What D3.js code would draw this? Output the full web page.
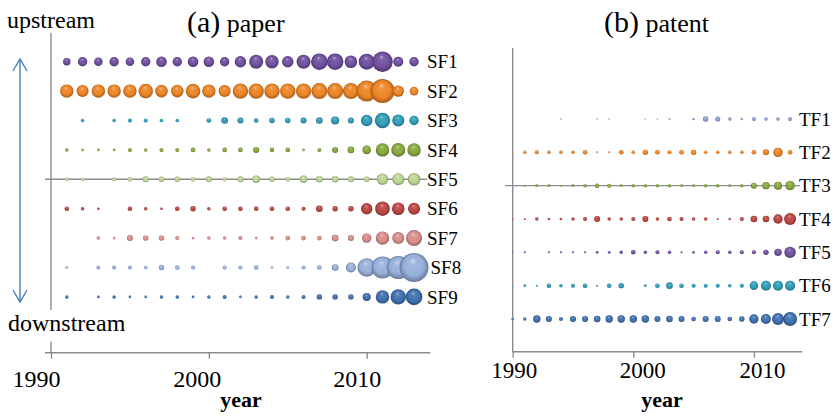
<!DOCTYPE html>
<html>
<head>
<meta charset="utf-8">
<script src="https://cdn.jsdelivr.net/npm/d3@7/dist/d3.min.js"></script>
<style>
  body { margin: 0; background: #fff; }
  svg { display: block; }
  text { font-family: 'Liberation Serif', 'Times New Roman', serif; }
</style>
</head>
<body>
<svg id="chart" width="836" height="417"></svg>
<script>
// years on each panel
const paperYears = [1991, 1992, 1993, 1994, 1995, 1996, 1997, 1998, 1999, 2000, 2001, 2002,
                    2003, 2004, 2005, 2006, 2007, 2008, 2009, 2010, 2011, 2012, 2013];
const patentYears = [1990, 1991, 1992, 1993, 1994, 1995, 1996, 1997, 1998, 1999, 2000, 2001,
                     2002, 2003, 2004, 2005, 2006, 2007, 2008, 2009, 2010, 2011, 2012, 2013];

const paperSeries = ["SF1", "SF2", "SF3", "SF4", "SF5", "SF6", "SF7", "SF8", "SF9"];
const patentSeries = ["TF1", "TF2", "TF3", "TF4", "TF5", "TF6", "TF7"];
const tickYears = [1990, 2000, 2010];

// bubble sizes (null = no bubble that year)
const SF1 = [55, 88, 74, 88, 74, 88, 112, 88, 112, 112, 88, 130, 196, 180, 130, 196, 276, 276, 159, 256, 424, 100, 88];
const SF2 = [180, 144, 180, 180, 180, 213, 159, 159, 213, 180, 144, 237, 237, 237, 237, 237, 256, 256, 256, 441, 576, 130, 74];
const SF3 = [null, 12, null, 12, 16, 16, 12, 12, null, 21, 44, 36, 21, 29, 29, 36, 44, 64, 36, 130, 237, 144, 88];
const SF4 = [12, 7, 7, 7, 16, 12, 16, 16, 21, 12, 21, 21, 36, 21, 21, 7, 16, 36, 44, 74, 180, 196, 180];
const SF5 = [12, 12, null, 16, 21, 36, 29, 29, 21, 36, 16, 36, 55, 29, 21, 55, 44, 44, 36, 29, 130, 144, 159];
const SF6 = [21, 12, 7, null, 21, 12, 7, 21, 29, 12, 21, 21, 21, 21, 21, 16, 44, 29, 29, 130, 213, 159, 144];
const SF7 = [null, null, 12, 7, 36, 29, 29, 16, 7, 12, 12, 16, 7, 12, 21, 21, 21, 44, 36, 88, 180, 144, 256];
const SF8 = [7, null, 16, 16, 16, 12, 29, 21, 16, null, 16, 16, 21, 7, 7, 16, 21, 44, 100, 346, 484, 529, 841];
const SF9 = [12, null, 7, 12, 7, 7, 12, 12, 7, 12, 16, 7, 12, 16, 12, 16, 29, 29, 29, 64, 180, 237, 276];

const TF1 = [null, null, null, null, 2, null, null, 2, 2, null, null, 2, 2, 4, null, 7, 29, 25, 12, 7, 16, 12, 12, 16];
const TF2 = [2, 12, 16, 12, 12, 12, 21, 4, 4, 21, 12, 29, 21, 16, 21, 29, 12, 12, 12, 12, 21, 36, 88, 21];
const TF3 = [null, 4, 7, 7, 4, 7, 12, 21, 16, 7, 12, 12, 12, 12, 7, 7, 12, 12, 7, 12, 36, 55, 64, 88];
const TF4 = [2, 4, 12, 7, 7, 12, 16, 36, 12, 12, 16, 36, 12, 21, 16, 12, 12, 4, 7, 16, 44, 44, 88, 144];
const TF5 = [2, 4, null, 4, 4, 4, 4, 7, 7, 12, 21, 12, 16, 12, 4, 7, 12, 16, 12, 16, 16, 29, 55, 130];
const TF6 = [2, 7, 4, 21, 12, 16, 21, 4, 21, 29, null, 7, 21, 44, 21, 16, 16, 16, 12, 16, 74, 100, 100, 100];
const TF7 = [7, 12, 55, 36, 16, 36, 36, 44, 55, 55, 55, 55, 36, 44, 36, 21, 36, 36, 21, 29, 88, 100, 144, 196];

const paperColors = ["#6f4f9e", "#ec8424", "#2f9cb8", "#86a83c", "#bcd494", "#bb4541", "#d98c8a", "#96b0da", "#3f70ae"];
const patentColors = ["#8f9fd2", "#ec8424", "#86a83c", "#bb4541", "#6f4f9e", "#2f9cb8", "#3f70ae"];

const serif = "'Liberation Serif', 'Times New Roman', serif";
const svg = d3.select("#chart");
const defs = svg.append("defs");
const axisColor = "#8c8c8c";

const size = d3.scaleSqrt().domain([0, 400]).range([0, 10]);

// 3d-looking bubble fills
const gradId = {};
[...new Set(paperColors.concat(patentColors))].forEach((c, i) => {
    const id = "g" + i;
    gradId[c] = id;
    const toWhite = d3.interpolateRgb(c, "#fff");
    const toBlack = d3.interpolateRgb(c, "#000");
    const g = defs.append("radialGradient").attr("id", id)
        .attr("cx", "50%").attr("cy", "50%").attr("r", "50%")
        .attr("fx", "45%").attr("fy", "25%");
    g.append("stop").attr("offset", "0%").attr("stop-color", toWhite(0.5));
    g.append("stop").attr("offset", "25%").attr("stop-color", toWhite(0.1));
    g.append("stop").attr("offset", "70%").attr("stop-color", c);
    g.append("stop").attr("offset", "100%").attr("stop-color", toBlack(0.3));
});

function drawPanel(p) {
    const x = d3.scaleLinear().domain([1990, 2010]).range(p.xRange);
    const y = d3.scalePoint().domain(p.series).range(p.yRange);
    const g = svg.append("g");

    // vertical axis line and horizontal crossing line
    g.append("line")
        .attr("x1", x(1990)).attr("x2", x(1990))
        .attr("y1", p.vTop).attr("y2", p.vBottom)
        .attr("stroke", axisColor).attr("stroke-width", 1.4);
    g.append("line")
        .attr("x1", p.crossX[0]).attr("x2", p.crossX[1])
        .attr("y1", y(p.crossAt)).attr("y2", y(p.crossAt))
        .attr("stroke", axisColor).attr("stroke-width", 1.4);

    // bubbles
    p.series.forEach((s, i) => {
        const vals = p.values[i];
        const pts = p.years.map((yr, j) => ({ yr, v: vals[j] })).filter(d => d.v != null);
        g.append("g").selectAll("circle")
            .data(pts)
            .join("circle")
            .attr("cx", d => x(d.yr))
            .attr("cy", y(s))
            .attr("r", d => size(d.v))
            .attr("fill", `url(#${gradId[p.colors[i]]})`);

        const last = pts[pts.length - 1];
        g.append("text")
            .attr("x", Math.max(p.labelX, x(last.yr) + size(last.v) + 2))
            .attr("y", y(s))
            .attr("dy", "0.35em")
            .attr("font-family", serif)
            .attr("font-size", 19)
            .text(s);
    });

    // bottom axis
    const ax = g.append("g")
        .attr("transform", `translate(0,${p.axisY})`)
        .call(d3.axisBottom(x).tickValues(tickYears).tickSize(6).tickSizeOuter(0).tickFormat(d3.format("d")))
        .attr("font-family", serif)
        .attr("font-size", p.tickFont);
    ax.select(".domain").remove();
    ax.append("line")
        .attr("x1", x(p.axisExtent[0])).attr("x2", x(p.axisExtent[1]))
        .attr("stroke", axisColor).attr("stroke-width", 1.4);
    ax.selectAll(".tick line").attr("stroke", axisColor).attr("stroke-width", 1.4);
    ax.selectAll(".tick text")
        .attr("y", p.tickLabelY)
        .attr("dy", null)
        .attr("dx", (d, i) => p.tickDx[i])
        .attr("fill", "#000");

    g.append("text")
        .attr("x", p.yearX).attr("y", 407)
        .attr("text-anchor", "middle")
        .attr("font-family", serif)
        .attr("font-size", 22).attr("font-weight", "bold")
        .text("year");

    const t = g.append("text").attr("x", p.titleX).attr("y", 32).attr("font-family", serif);
    t.append("tspan").attr("font-size", 30).text(p.titleTag);
    t.append("tspan").attr("font-size", 26).text(" " + p.title);

    return x;
}

const xPaper = drawPanel({
    years: paperYears, series: paperSeries, colors: paperColors,
    values: [SF1, SF2, SF3, SF4, SF5, SF6, SF7, SF8, SF9],
    xRange: [51, 366.7], yRange: [61.7, 296.9],
    vTop: 33, vBottom: 310, crossAt: "SF5", crossX: [45, 427],
    labelX: 427, axisY: 352.7, axisExtent: [1989.62, 2014.03],
    tickLabelY: 34, tickDx: [-15, -12, -10], tickFont: 24,
    yearX: 241, titleX: 187, titleTag: "(a)", title: "paper"
});

// small upward tick at 1990 on the paper axis
svg.append("line")
    .attr("x1", xPaper(1990)).attr("x2", xPaper(1990))
    .attr("y1", 341.7).attr("y2", 352.7)
    .attr("stroke", axisColor).attr("stroke-width", 1.4);

drawPanel({
    years: patentYears, series: patentSeries, colors: patentColors,
    values: [TF1, TF2, TF3, TF4, TF5, TF6, TF7],
    xRange: [512.7, 753.9], yRange: [119, 319],
    vTop: 48, vBottom: 352, crossAt: "TF3", crossX: [505, 800],
    labelX: 799, axisY: 351.7, axisExtent: [1990, 2014],
    tickLabelY: 26.6, tickDx: [1, 9, 8], tickFont: 23,
    yearX: 662, titleX: 604, titleTag: "(b)", title: "patent"
});

// upstream / downstream arrow
svg.append("text").attr("x", 7).attr("y", 28).attr("font-family", serif).attr("font-size", 24).text("upstream");
svg.append("text").attr("x", 8).attr("y", 331).attr("font-family", serif).attr("font-size", 24).text("downstream");

const arrowX = 20, arrowTop = 59, arrowBottom = 302;
const arrow = svg.append("g")
    .attr("stroke", "#4a7ebb").attr("stroke-width", 1.4).attr("fill", "none");
arrow.append("line").attr("x1", arrowX).attr("x2", arrowX).attr("y1", arrowTop).attr("y2", arrowBottom);
arrow.append("path").attr("d", `M${arrowX - 7},${arrowTop + 12}L${arrowX},${arrowTop}L${arrowX + 7},${arrowTop + 12}`);
arrow.append("path").attr("d", `M${arrowX - 7},${arrowBottom - 12}L${arrowX},${arrowBottom}L${arrowX + 7},${arrowBottom - 12}`);
</script>
</body>
</html>
